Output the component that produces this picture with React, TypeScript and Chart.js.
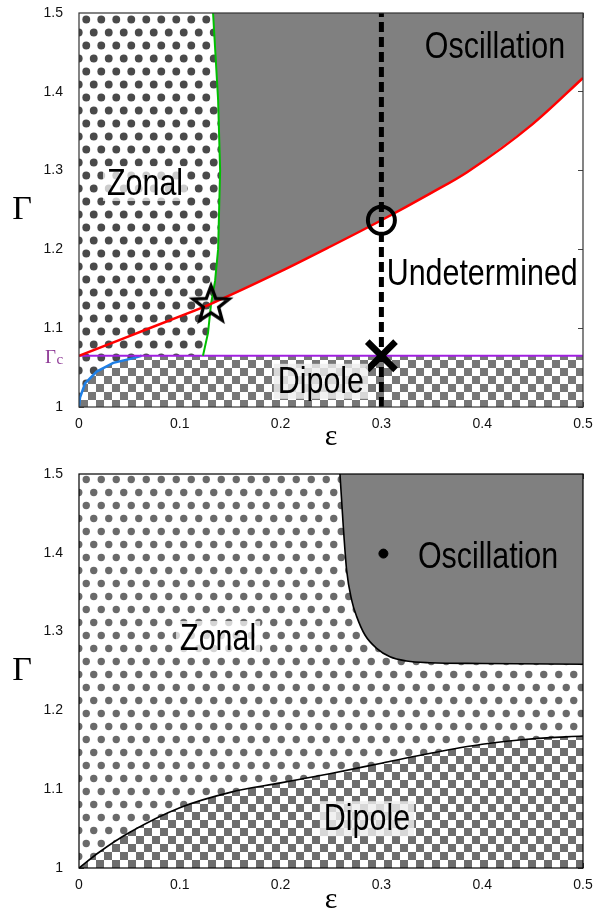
import { useEffect, useRef } from "react";
import { Chart, registerables } from "chart.js";

Chart.register(...registerables);

// ---------------- data ----------------
const X_TICKS = [0, 0.1, 0.2, 0.3, 0.4, 0.5];
const Y_TICKS = [1, 1.1, 1.2, 1.3, 1.4, 1.5];
const EPS_MIN = 0;
const EPS_MAX = 0.5;
const GAMMA_MIN = 1;
const GAMMA_MAX = 1.5;
const GAMMA_C = 1.065;

// top panel boundaries
const redEps = [0, 0.05, 0.1, 0.131, 0.2, 0.25, 0.3, 0.35, 0.385, 0.45, 0.5];
const redGamma = [1.065, 1.09, 1.115, 1.131, 1.172, 1.204, 1.237, 1.272, 1.298, 1.359, 1.4175];
const greenEps = [0.123, 0.128, 0.131, 0.135, 0.138, 0.14, 0.138, 0.133];
const greenGamma = [1.065, 1.094, 1.131, 1.16, 1.2, 1.3, 1.39, 1.5];
const blueEps = [0, 0.001, 0.006, 0.0175, 0.034, 0.054, 0.062];
const blueGamma = [1.0, 1.012, 1.03, 1.045, 1.056, 1.062, 1.065];
const starPoint = [0.131, 1.131];
const circlePoint = [0.3, 1.237];
const crossPoint = [0.3, GAMMA_C];
const dashedEps = [0.3, 0.3];
const dashedGamma = [1.0, 1.5];

// bottom panel boundaries
const oscEps = [0.2589, 0.2622, 0.2655, 0.2705, 0.2755, 0.2837, 0.2953, 0.3085, 0.325, 0.348, 0.4, 0.5];
const oscGamma = [1.5, 1.4331, 1.378, 1.34, 1.319, 1.2957, 1.2788, 1.268, 1.2627, 1.2605, 1.2595, 1.2585];
const dipEps = [0, 0.02, 0.05, 0.1, 0.15, 0.2, 0.25, 0.3, 0.35, 0.4, 0.45, 0.5];
const dipGamma = [1.0, 1.02, 1.045, 1.0765, 1.096, 1.108, 1.12, 1.133, 1.146, 1.157, 1.164, 1.1675];
const dotPoint = [0.302, 1.399];

// region labels (data coordinates: centre eps, baseline gamma)
const topLabelText = ["Oscillation", "Undetermined", "Zonal", "Dipole"];
const topLabelEps = [0.4127, 0.4, 0.0655, 0.24];
const topLabelGamma = [1.443, 1.155, 1.269, 1.018];
const topLabelBg = ["", "", "zonal", "dipole"];
const botLabelText = ["Oscillation", "Zonal", "Dipole"];
const botLabelEps = [0.4058, 0.138, 0.2857];
const botLabelGamma = [1.3807, 1.2766, 1.048];
const botLabelBg = ["", "zonal", "dipole"];

// ---------------- styles ----------------
const SANS = '"Liberation Sans", Arial, Helvetica, sans-serif';
const SERIF = '"Liberation Serif", "Times New Roman", serif';
const LABEL_SX = 0.845;

const pts = (xs: number[], ys: number[]) => xs.map((x, i) => ({ x, y: ys[i] }));

function checker(ctx: CanvasRenderingContext2D, size: number, color: string) {
  const c = document.createElement("canvas");
  c.width = size * 2;
  c.height = size * 2;
  const g = c.getContext("2d")!;
  g.fillStyle = "#fff";
  g.fillRect(0, 0, size * 2, size * 2);
  g.fillStyle = color;
  g.fillRect(0, 0, size, size);
  g.fillRect(size, size, size, size);
  return ctx.createPattern(c, "repeat")!;
}

function dots(ctx: CanvasRenderingContext2D, w: number, h: number, r: number, color: string) {
  const c = document.createElement("canvas");
  c.width = w;
  c.height = h;
  const g = c.getContext("2d")!;
  g.fillStyle = "#fff";
  g.fillRect(0, 0, w, h);
  g.fillStyle = color;
  const centres = [
    [w / 4, h / 4],
    [(3 * w) / 4, (3 * h) / 4],
  ];
  for (const [cx, cy] of centres) {
    for (const dx of [-w, 0, w]) {
      for (const dy of [-h, 0, h]) {
        g.beginPath();
        g.arc(cx + dx, cy + dy, r, 0, Math.PI * 2);
        g.fill();
      }
    }
  }
  return ctx.createPattern(c, "repeat")!;
}

function starImage() {
  const c = document.createElement("canvas");
  c.width = 48;
  c.height = 48;
  const g = c.getContext("2d")!;
  g.translate(24, 25);
  const R = 19;
  const r = 8;
  g.beginPath();
  for (let i = 0; i < 10; i++) {
    const a = -Math.PI / 2 + (i * Math.PI) / 5;
    const rr = i % 2 ? r : R;
    g.lineTo(rr * Math.cos(a), rr * Math.sin(a));
  }
  g.closePath();
  g.lineWidth = 3.3;
  g.lineJoin = "miter";
  g.strokeStyle = "#000";
  g.stroke();
  return c;
}

const fmt = (v: any) => String(+Number(v).toFixed(2));

function noPad(s: any) {
  s.paddingTop = 0;
  s.paddingBottom = 0;
  s.paddingLeft = 0;
  s.paddingRight = 0;
}

function buildScales(xAxisHeight: number, tickColor: string) {
  const grid = {
    display: true,
    drawOnChartArea: false,
    drawTicks: true,
    tickLength: -5,
    color: tickColor,
    lineWidth: 1,
  };
  const tickFont = { family: SANS, size: 14 };
  return {
    x: {
      type: "linear",
      position: "bottom",
      min: EPS_MIN,
      max: EPS_MAX,
      afterBuildTicks: (s: any) => {
        s.ticks = X_TICKS.map((value) => ({ value }));
      },
      ticks: { font: tickFont, color: "#111", padding: 14, maxRotation: 0, autoSkip: false, callback: fmt },
      grid,
      border: { display: false },
      afterFit: (s: any) => {
        s.height = xAxisHeight;
        noPad(s);
      },
    },
    y: {
      type: "linear",
      position: "left",
      min: GAMMA_MIN,
      max: GAMMA_MAX,
      afterBuildTicks: (s: any) => {
        s.ticks = Y_TICKS.map((value) => ({ value }));
      },
      ticks: { font: tickFont, color: "#111", padding: 21, autoSkip: false, callback: fmt },
      grid,
      border: { display: false },
      afterFit: (s: any) => {
        s.width = 79;
        noPad(s);
      },
    },
    x2: {
      type: "linear",
      position: "top",
      min: EPS_MIN,
      max: EPS_MAX,
      afterBuildTicks: (s: any) => {
        s.ticks = X_TICKS.map((value) => ({ value }));
      },
      ticks: { display: false },
      grid,
      border: { display: false },
      afterFit: (s: any) => {
        s.height = 0;
        noPad(s);
      },
    },
    y2: {
      type: "linear",
      position: "right",
      min: GAMMA_MIN,
      max: GAMMA_MAX,
      afterBuildTicks: (s: any) => {
        s.ticks = Y_TICKS.map((value) => ({ value }));
      },
      ticks: { display: false },
      grid,
      border: { display: false },
      afterFit: (s: any) => {
        s.width = 0;
        noPad(s);
      },
    },
  };
}

function drawRegionLabel(ctx: CanvasRenderingContext2D, text: string, x: number, y: number, bg: string) {
  ctx.save();
  ctx.font = `36px ${SANS}`;
  const w = ctx.measureText(text).width * LABEL_SX;
  if (bg) {
    ctx.fillStyle = bg;
    ctx.fillRect(x - w / 2 - 4, y - 29, w + 8, 35);
  }
  ctx.translate(x, y);
  ctx.scale(LABEL_SX, 1);
  ctx.textAlign = "center";
  ctx.textBaseline = "alphabetic";
  ctx.fillStyle = "#000";
  ctx.fillText(text, 0, 0);
  ctx.restore();
}

function makePlugins(
  texts: string[],
  eps: number[],
  gam: number[],
  bgs: string[],
  frameColor: string,
  epsBaselineOffset: number,
  withGammaC: boolean
) {
  const bgColor: Record<string, string> = {
    zonal: "rgba(255,255,255,0.72)",
    dipole: "rgba(238,238,238,0.82)",
  };
  return [
    {
      id: "frame",
      afterDatasetsDraw(chart: any) {
        const { ctx, chartArea: a } = chart;
        ctx.save();
        ctx.strokeStyle = frameColor;
        ctx.lineWidth = 1.2;
        ctx.strokeRect(a.left, a.top, a.right - a.left, a.bottom - a.top);
        ctx.restore();
      },
    },
    {
      id: "annot",
      afterDraw(chart: any) {
        const { ctx, chartArea: a, scales } = chart;
        const sx = scales.x;
        const sy = scales.y;
        texts.forEach((t, i) => {
          drawRegionLabel(ctx, t, sx.getPixelForValue(eps[i]), sy.getPixelForValue(gam[i]), bgColor[bgs[i]] || "");
        });
        ctx.save();
        ctx.fillStyle = "#000";
        ctx.textAlign = "center";
        ctx.textBaseline = "alphabetic";
        ctx.font = `34px ${SERIF}`;
        ctx.fillText("\u0393", 22, (a.top + a.bottom) / 2 + 9);
        ctx.font = `30px ${SERIF}`;
        ctx.fillText("\u03b5", (a.left + a.right) / 2 + 0, a.bottom + epsBaselineOffset);
        if (withGammaC) {
          const yc = sy.getPixelForValue(GAMMA_C);
          ctx.fillStyle = "#8e3a96";
          ctx.textAlign = "left";
          ctx.font = `19px ${SERIF}`;
          ctx.fillText("\u0393", 45, yc + 7);
          ctx.font = `15px ${SERIF}`;
          ctx.fillText("c", 56.5, yc + 8);
        }
        ctx.restore();
      },
    },
  ];
}

function topConfig(ctx: CanvasRenderingContext2D): any {
  const red = pts(redEps, redGamma);
  const green = pts(greenEps, greenGamma);
  const blue = pts(blueEps, blueGamma);
  const gammaLine = pts([EPS_MIN, EPS_MAX], [GAMMA_C, GAMMA_C]);

  const dipolePoly = [...blue, { x: EPS_MAX, y: GAMMA_C }];
  const zonalPoly = [
    { x: EPS_MIN, y: blueGamma[0] },
    { x: EPS_MIN, y: GAMMA_MAX },
    ...green.slice().reverse(),
    ...blue.slice(1).reverse(),
  ];
  const oscPoly = [
    ...green.filter((p) => p.y >= starPoint[1]),
    { x: EPS_MAX, y: GAMMA_MAX },
    ...red.filter((p) => p.x >= starPoint[0]).reverse(),
  ];

  const line = (data: any[], color: string, width: number, order: number, extra: any = {}) => ({
    data,
    borderColor: color,
    borderWidth: width,
    pointRadius: 0,
    fill: false,
    tension: 0,
    order,
    xAxisID: "x",
    yAxisID: "y",
    ...extra,
  });

  return {
    type: "line",
    data: {
      datasets: [
        line([{ x: starPoint[0], y: starPoint[1] }], "#000", 0, 0, {
          showLine: false,
          pointRadius: 10,
          pointStyle: starImage(),
        }),
        line([{ x: circlePoint[0], y: circlePoint[1] }], "#000", 0, 1, {
          showLine: false,
          pointRadius: 13.5,
          pointStyle: "circle",
          pointBorderWidth: 4,
          pointBorderColor: "#000",
          pointBackgroundColor: "rgba(0,0,0,0)",
        }),
        line([{ x: crossPoint[0], y: crossPoint[1] }], "#000", 0, 2, {
          showLine: false,
          pointRadius: 20,
          pointStyle: "crossRot",
          pointBorderWidth: 6.5,
          pointBorderColor: "#000",
        }),
        line(pts(dashedEps, dashedGamma), "#000", 5, 3, { borderDash: [10, 5] }),
        line(red, "#ff0000", 2.5, 4, { cubicInterpolationMode: "monotone" }),
        line(green, "#00c000", 2, 5),
        line(gammaLine, "#a020e0", 2, 6),
        line(blue, "#1e7fe6", 2.5, 7),
        line(dipolePoly, "rgba(0,0,0,0)", 0, 8, { fill: "start", backgroundColor: checker(ctx, 8, "#777777") }),
        line(zonalPoly, "rgba(0,0,0,0)", 0, 9, { fill: "shape", backgroundColor: dots(ctx, 15, 26, 3.9, "#4a4a4a") }),
        line(oscPoly, "rgba(0,0,0,0)", 0, 10, { fill: "shape", backgroundColor: "#808080" }),
      ],
    },
    options: {
      responsive: false,
      animation: false,
      events: [],
      layout: { autoPadding: false, padding: { left: 0, right: 14, top: 13, bottom: 0 } },
      plugins: { legend: { display: false }, tooltip: { enabled: false } },
      scales: buildScales(53, "#444"),
    },
    plugins: makePlugins(topLabelText, topLabelEps, topLabelGamma, topLabelBg, "#333", 38, true),
  };
}

function bottomConfig(ctx: CanvasRenderingContext2D): any {
  const base = { pointRadius: 0, tension: 0, xAxisID: "x", yAxisID: "y" };
  return {
    type: "line",
    data: {
      datasets: [
        {
          ...base,
          data: [{ x: dotPoint[0], y: dotPoint[1] }],
          showLine: false,
          pointRadius: 4.5,
          pointStyle: "circle",
          pointBackgroundColor: "#000",
          pointBorderColor: "#000",
          order: 0,
        },
        {
          ...base,
          data: pts(oscEps, oscGamma),
          borderColor: "#000",
          borderWidth: 1.6,
          cubicInterpolationMode: "monotone",
          fill: "end",
          backgroundColor: "#808080",
          order: 1,
        },
        {
          ...base,
          data: pts(dipEps, dipGamma),
          borderColor: "#000",
          borderWidth: 1.6,
          cubicInterpolationMode: "monotone",
          fill: "start",
          backgroundColor: checker(ctx, 8, "#6e6e6e"),
          order: 2,
        },
        {
          ...base,
          data: pts([EPS_MIN, EPS_MAX], [GAMMA_MAX, GAMMA_MAX]),
          borderWidth: 0,
          borderColor: "rgba(0,0,0,0)",
          fill: "start",
          backgroundColor: dots(ctx, 15, 26, 3.7, "#6a6a6a"),
          order: 3,
        },
      ],
    },
    options: {
      responsive: false,
      animation: false,
      events: [],
      layout: { autoPadding: false, padding: { left: 0, right: 14, top: 14, bottom: 0 } },
      plugins: { legend: { display: false }, tooltip: { enabled: false } },
      scales: buildScales(46, "#444"),
    },
    plugins: makePlugins(botLabelText, botLabelEps, botLabelGamma, botLabelBg, "#000", 40, false),
  };
}

export default function App() {
  const topRef = useRef<HTMLCanvasElement>(null);
  const botRef = useRef<HTMLCanvasElement>(null);

  useEffect(() => {
    const tc = topRef.current!;
    const bc = botRef.current!;
    const c1 = new Chart(tc, topConfig(tc.getContext("2d")!));
    const c2 = new Chart(bc, bottomConfig(bc.getContext("2d")!));
    return () => {
      c1.destroy();
      c2.destroy();
    };
  }, []);

  return (
    <div style={{ position: "absolute", left: 0, top: 0, width: 597, height: 914, background: "#fff" }}>
      <canvas ref={topRef} width={597} height={460} style={{ position: "absolute", left: 0, top: 0 }} />
      <canvas ref={botRef} width={597} height={454} style={{ position: "absolute", left: 0, top: 460 }} />
    </div>
  );
}
